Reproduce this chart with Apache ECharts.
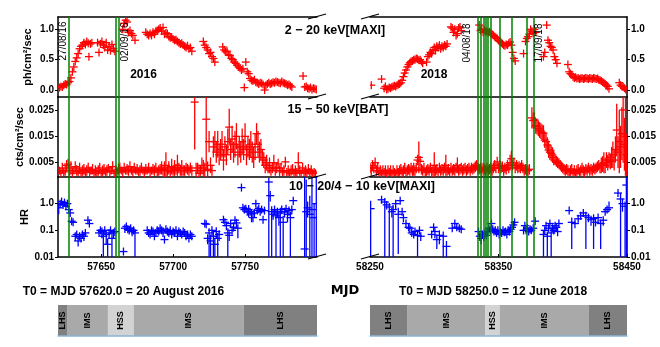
<!DOCTYPE html>
<html>
<head>
<meta charset="utf-8">
<script src="https://cdn.jsdelivr.net/npm/echarts@6/dist/echarts.min.js"></script>
<style>
html, body { margin: 0; padding: 0; background: #fff; }
#main { width: 660px; height: 347px; }
</style>
</head>
<body>
<div id="main"></div>
<script>
// reference epochs (MJD) and axis ranges
const T0_16 = 57620, T0_18 = 58250;
const xRange16 = [57620, 57800], xRange18 = [58250, 58450];
const xTicks16 = [57650, 57700, 57750], xTicks18 = [58250, 58350, 58450];
const fluxTicks = [0, 0.5, 1.0];
const batTicks = [0.005, 0.015, 0.025];

// green marker lines, days after T0
const green16 = [7.6, 39.9, 42.4];
const green18 = [83.8, 86.1, 88.7, 90.0, 91.6, 93.6, 100.9, 110.3, 122.2, 127.6];

// spectral states [name, start day, end day]
const states16 = [['LHS', 0, 6.7], ['IMS', 6.7, 34.7], ['HSS', 34.7, 52.6], ['IMS', 52.6, 129], ['LHS', 129, 180]];
const states18 = [['LHS', 0, 29.3], ['IMS', 29.3, 89.8], ['HSS', 89.8, 100.9], ['IMS', 100.9, 170.4], ['LHS', 170.4, 200]];

// MAXI 2-20 keV  [day, flux]
const maxi16 = [
  [1,0.04],[2,0.06],[3,0.05],[4,0.08],[5,0.1],[6,0.09],[7,0.12],[8,0.14],[9,0.2],[10,0.3],[11,0.38],[12,0.47],
  [13,0.53],[14,0.6],[15,0.68],[16,0.72],[17,0.74],[18,0.78],[19,0.75],[20,0.8],[21,0.77],[21.5,0.55],[22.5,0.76],[23.5,0.78],
  [27.5,0.78],[28.5,0.62],[29.5,0.76],[30.5,0.8],[31.5,0.74],[32.5,0.7],[33.5,0.78],[34.5,0.66],[35.5,0.72],[36.5,0.65],
  [37.5,0.75],[38.5,0.68],[39.5,0.64],
  [45,1.0],[46,1.1],[47,1.15],[48,1.12],[49,0.95],[50,0.98],[51,0.93],[52,0.9],[53.5,0.82],
  [61,0.95],[62,0.92],[63,0.9],[64,0.93],[65,0.9],[66,0.95],[67,0.92],[68,0.97],[69,0.98],[70,1.0],[71,1.02],[72,0.97],
  [73,1.03],[74,0.92],[75,0.94],[76,0.93],[77,0.88],[78,0.86],[79,0.87],[80,0.84],[81,0.82],[82,0.83],[83,0.8],[84,0.78],
  [85,0.76],[86,0.77],[87,0.74],[88,0.72],[89,0.7],[90,0.73],[91,0.68],[92,0.7],[93,0.64],
  [101,0.8],[102,0.74],[103,0.7],[104,0.66],[105,0.6],[106,0.62],[107,0.55],[108,0.52],[109,0.46],
  [114.5,0.71],[115.5,0.66],[116.5,0.63],[117.5,0.64],[118.5,0.58],[119.5,0.57],[120.5,0.52],[121.5,0.5],[122.5,0.46],
  [123.5,0.44],[124.5,0.41],[125.5,0.38],[126.5,0.36],[127.5,0.33],[128.5,0.35],[129.5,0.04],[130.5,0.46],[131.5,0.3],
  [132.5,0.27],[133.5,0.19],[134.5,0.16],[135.5,0.15],[136.5,0.17],[137.5,0.13],[138.5,0.12],[139.5,0.1],[140.5,0.12],
  [141.5,0.11],[142.5,0.09],[143.6,0.0],[144.5,0.08],[145.5,0.1],[146.5,0.12],[147.5,0.1],[148.5,0.11],[149.5,0.13],
  [150.5,0.12],[151.5,0.14],[152.5,0.13],[153.5,0.12],[154.5,0.11],[155.5,0.14],[156.5,0.12],[157.5,0.11],[158.5,0.1],
  [159.5,0.08],[160.5,0.09],[161.5,0.07],[162.5,0.05],
  [170.3,0.23],[171.5,0.05],[172.5,0.06],[173.5,0.03],[174.5,0.02],[175.5,0.04],[176.5,0.01],[177.5,0.03],[178.5,0.02],[179.5,0.01]
];
const maxi18 = [
  [1,0.08],[9,0.18],[11,0.03],[12,0.06],[13,0.01],[14,0.02],[15,0.04],[16,0.03],[17,0.05],[18,0.06],[19,0.07],[20,0.06],
  [21,0.08],[22,0.09],[23,0.1],[24,0.12],[25,0.16],[26,0.22],[27,0.28],[28,0.33],[29,0.38],[30,0.42],[31,0.45],[32,0.47],
  [33,0.48],[34,0.5],[35,0.5],[36,0.52],[37,0.51],[38,0.49],[39,0.5],[40,0.47],[41,0.44],
  [44,0.46],[45,0.55],[46,0.58],[47,0.62],[48,0.6],[49,0.66],[50,0.7],[51,0.65],[52,0.72],[53,0.7],[54,0.74],[55,0.68],
  [56,0.72],[57,0.7],[58,0.74],[59,0.72],[60,0.76],
  [63,1.04],[64,1.02],[65,0.95],[66,1.0],[67,0.9],[68,0.93],[69,1.02],[70,1.04],[71,0.98],
  [85,1.07],[86,0.98],[87,1.0],[88,0.95],[89,0.99],[90,0.96],[91,0.97],[92,0.94],[93,0.96],[94,0.93],[95,0.92],[96,0.9],
  [97,0.88],[98,0.86],[99,0.85],[100,0.82],[101,0.8],[102,0.78],[103,0.76],[104,0.74],[105,0.73],[106,0.75],[107,0.74],
  [108,0.77],[109,0.79],[110,0.74],[111,0.62],[112,0.52],[113,0.48],
  [119.5,0.6],[121,0.8],[122,0.85],[123,0.88],[124,0.92],[125,1.0],[126,0.97],[127,0.93],[128,1.0],[129,0.95],
  [135,0.55],[136,0.62],[137.5,1.07],[138.5,0.82],[139.5,0.78],[140.5,0.72],[141.5,0.7],[142.5,0.66],[143.5,0.55],
  [144.5,0.5],[145.5,0.44],
  [154,0.42],[155,0.3],[156,0.27],[157,0.25],[158,0.22],[159,0.2],[160,0.21],[161,0.19],[162,0.2],[163,0.18],[164,0.19],
  [165,0.2],[166,0.18],[167,0.19],[168,0.2],[169,0.19],[170,0.18],[171,0.2],[172,0.19],[173,0.18],[174,0.2],[175,0.19],
  [176,0.18],[177,0.19],[178,0.17],[179,0.16],[180,0.15],[181,0.13],[182,0.12],[183,0.1],[184,0.08],[185,0.06],[186,0.02],
  [194,0.12],[195,0.08],[196,0.06],[197,0.05],[198,0.03],[199,0.01]
];

// BAT 15-50 keV  [day, rate, error]
const bat16 = [
  [1,0.002,0.0015],[2,0.001,0.002],[3,0.003,0.002],[4,0.0015,0.0015],[5,0.002,0.002],[6,0.004,0.002],[7,0.0045,0.002],
  [8,0.002,0.002],[9,0.003,0.0025],[10,0.001,0.002],[11,0.002,0.0015],[12,0.0035,0.002],[13,0.002,0.002],[14,0.0015,0.0015],
  [15,0.003,0.002],[16,0.001,0.0015],[17,0.002,0.002],[18,0.0025,0.002],[19,0.0015,0.0015],[20,0.002,0.002],[21,0.003,0.002],
  [22,0.0015,0.002],[23,0.002,0.0015],[24,0.0025,0.002],[25,0.001,0.0015],[26,0.002,0.002],[27,0.0015,0.0015],[28,0.002,0.002],
  [29,0.003,0.002],[30,0.001,0.0015],[31,0.002,0.002],[32,0.0025,0.002],[33,0.0015,0.0015],[34,0.002,0.002],[35,0.003,0.0015],
  [36,0.0015,0.002],[37,0.002,0.0015],[38,0.0035,0.002],[39,0.001,0.0015],[40,0.002,0.002],[41,0.0015,0.0015],[42,0.0025,0.002],
  [43,0.003,0.002],[44,0.002,0.0015],[45,0.0015,0.002],[46,0.003,0.002],[47,0.002,0.0015],[48,0.0025,0.002],[49,0.002,0.002],
  [50,0.0035,0.002],[51,0.002,0.0015],[52,0.0015,0.002],[53,0.003,0.002],[54,0.002,0.0015],[55,0.0025,0.002],[56,0.0015,0.0015],
  [57,0.002,0.002],[58,0.003,0.002],[59,0.002,0.0015],[60,0.0015,0.002],[61,0.0025,0.002],[62,0.002,0.0015],[63,0.003,0.002],
  [64,0.0015,0.002],[65,0.002,0.0015],[66,0.0025,0.002],[67,0.002,0.002],[68,0.003,0.002],[69,0.0015,0.0015],[70,0.002,0.002],
  [71,0.0025,0.002],[72,0.003,0.0025],[73,0.002,0.002],[74,0.0025,0.003],[75,0.004,0.005],[76,0.002,0.002],[77,0.003,0.0025],
  [78,0.0015,0.002],[79,0.0035,0.003],[80,0.002,0.002],[81,0.003,0.003],[82,0.0025,0.002],[83,0.004,0.004],[84,0.003,0.002],
  [85,0.002,0.002],[86,0.003,0.003],[87,0.002,0.002],[88,0.002,0.002],[89,0.003,0.002],[90,0.0025,0.002],[91,0.002,0.002],
  [92,0.003,0.002],[93,0.002,0.002],[95,0.028,0.018],[96,0.002,0.003],[97,0.003,0.002],[98,0.001,0.003],[99,0.002,0.002],
  [100,0.004,0.003],[101,0.003,0.003],[102,0.002,0.003],[103,0.0215,0.019],[104,0.0025,0.003],[105,0.013,0.004],
  [106,0.004,0.003],[107,0.002,0.002],[108,0.011,0.004],[109,0.013,0.004],[110,0.009,0.004],[111,0.012,0.005],
  [112,0.008,0.004],[113,0.01,0.004],[114,0.012,0.005],[115,0.006,0.004],[116,0.011,0.004],[117,0.008,0.004],
  [118,0.013,0.005],[119,0.0185,0.007],[120,0.01,0.004],[121,0.014,0.005],[122,0.009,0.004],[123,0.012,0.005],
  [124,0.015,0.005],[125,0.008,0.004],[126,0.011,0.004],[127,0.009,0.004],[128,0.013,0.005],[129,0.01,0.004],
  [130,0.015,0.005],[131,0.008,0.004],[132,0.011,0.004],[133,0.01,0.004],[134,0.012,0.005],[135,0.009,0.004],
  [136,0.007,0.004],[137,0.011,0.005],[138,0.016,0.004],[139,0.012,0.005],[140,0.009,0.004],[141,0.01,0.004],
  [142,0.007,0.003],[143,0.006,0.003],[144,0.004,0.003],[145,0.005,0.003],[146,0.003,0.002],[147,0.004,0.003],
  [148,0.002,0.002],[149,0.003,0.002],[150,0.005,0.003],[151,0.002,0.002],[152,0.003,0.002],[153,0.0045,0.002],
  [154,0.002,0.002],[155,0.003,0.002],[156,0.0015,0.0015],[157,0.002,0.002],[158,0.0053,0.002],[159,0.0015,0.0015],
  [160,0.002,0.002],[161,0.001,0.0015],[162,0.002,0.002],[163,0.0025,0.002],[164,0.001,0.0015],[165,0.002,0.002],
  [166,0.0015,0.0015],[167,0.005,0.004],[168,0.002,0.002],[169,0.001,0.0015],[170,0.003,0.002],[171,0.0015,0.0015],
  [172,0.002,0.002],[173,0.001,0.0015],[174,0.0025,0.002],[175,0.0015,0.0015],[176,0.002,0.002],[177,0.001,0.0015],
  [178,0.0015,0.0015],[179,0.001,0.0015]
];
const bat18 = [
  [0,0.003,0.002],[1,0.002,0.002],[2,0.004,0.002],[3,0.003,0.002],[4,0.005,0.002],[5,0.002,0.002],[6,0.003,0.002],
  [7,0.0015,0.0015],[8,0.002,0.002],[9,0.001,0.0015],[10,0.002,0.002],[11,0.0015,0.0015],[12,0.002,0.002],[13,0.001,0.0015],
  [14,0.002,0.002],[15,0.0015,0.0015],[16,0.002,0.002],[17,0.001,0.0015],[18,0.002,0.002],[19,0.0015,0.0015],[20,0.001,0.0015],
  [21,0.002,0.002],[22,0.0015,0.0015],[23,0.002,0.002],[24,0.0025,0.002],[25,0.001,0.0015],[26,0.002,0.002],[27,0.003,0.002],
  [28,0.0015,0.0015],[29,0.002,0.002],[30,0.0025,0.002],[31,0.002,0.002],[32,0.003,0.002],[33,0.002,0.002],[34,0.0025,0.0025],
  [35,0.002,0.002],[36,0.003,0.002],[37,0.006,0.002],[38,0.007,0.006],[39,0.0055,0.002],[40,0.0025,0.002],[41,0.002,0.002],
  [42,0.003,0.002],[43,0.0015,0.0015],[44,0.002,0.002],[45,0.0025,0.002],[46,0.002,0.002],[47,0.003,0.002],[48,0.0015,0.002],
  [49,0.002,0.002],[50,0.004,0.005],[51,0.002,0.002],[52,0.0025,0.002],[53,0.0015,0.0015],[54,0.003,0.002],[55,0.002,0.002],
  [56,0.0025,0.002],[57,0.002,0.002],[58,0.003,0.002],[59,0.004,0.004],[60,0.002,0.002],[61,0.0025,0.002],[62,0.0015,0.0015],
  [63,0.003,0.002],[64,0.002,0.002],[65,0.0025,0.002],[66,0.002,0.002],[67,0.003,0.002],[68,0.004,0.003],[69,0.002,0.002],
  [70,0.0025,0.002],[71,0.003,0.002],[72,0.002,0.002],[73,0.0025,0.002],[74,0.003,0.002],[75,0.002,0.002],[76,0.0025,0.002],
  [77,0.003,0.002],[78,0.002,0.002],[79,0.003,0.002],[80,0.0025,0.002],[81,0.003,0.002],[82,0.0035,0.002],[83,0.004,0.002],
  [84,0.003,0.002],[85,0.0025,0.002],[86,0.003,0.002],[87,0.002,0.002],[88,0.003,0.002],[89,0.0025,0.002],[90,0.002,0.002],
  [91,0.003,0.002],[92,0.002,0.002],[93,0.0025,0.002],[94,0.003,0.002],[95,0.002,0.002],[96,0.003,0.002],[97,0.004,0.002],
  [98,0.003,0.002],[99,0.0053,0.002],[100,0.003,0.002],[101,0.004,0.002],[102,0.003,0.002],[103,0.0035,0.002],
  [104,0.002,0.002],[105,0.003,0.002],[106,0.0025,0.002],[107,0.004,0.002],[108,0.003,0.002],[109,0.005,0.003],
  [110,0.0065,0.003],[111,0.004,0.002],[112,0.005,0.002],[113,0.003,0.002],[114,0.004,0.002],[115,0.003,0.002],
  [116,0.0035,0.002],[117,0.003,0.002],[118,0.004,0.002],[119,0.003,0.002],[120,0.002,0.002],[121,0.0025,0.002],
  [122,0.002,0.002],[123,0.002,0.002],[124,0.0025,0.002],[126,0.022,0.004],[127,0.021,0.003],[128,0.0212,0.003],
  [129,0.019,0.003],[130,0.0187,0.003],[131,0.018,0.003],[132,0.0174,0.003],[133,0.017,0.003],[134,0.0165,0.003],
  [135,0.0162,0.003],[136,0.0136,0.003],[137,0.013,0.003],[138,0.0117,0.003],[139,0.0098,0.003],[140,0.009,0.003],
  [141,0.0085,0.003],[142,0.0079,0.003],[143,0.007,0.003],[144,0.006,0.002],[145,0.0055,0.002],[146,0.005,0.002],
  [147,0.0047,0.002],[148,0.004,0.002],[149,0.0035,0.002],[150,0.003,0.002],[151,0.0025,0.002],[152,0.002,0.002],
  [153,0.0025,0.002],[154,0.002,0.002],[155,0.0015,0.0015],[156,0.002,0.002],[157,0.0025,0.002],[158,0.0015,0.0015],
  [159,0.002,0.002],[160,0.001,0.0015],[161,0.002,0.002],[162,0.0025,0.002],[163,0.0015,0.0015],[164,0.002,0.002],
  [165,0.003,0.002],[166,0.002,0.002],[167,0.0015,0.002],[168,0.0025,0.002],[169,0.002,0.002],[170,0.003,0.002],
  [171,0.002,0.002],[172,0.0025,0.002],[173,0.002,0.002],[174,0.003,0.002],[175,0.0025,0.002],[176,0.003,0.002],
  [177,0.0035,0.002],[178,0.004,0.002],[179,0.003,0.002],[180,0.004,0.003],[181,0.0045,0.003],[182,0.005,0.004],
  [183,0.004,0.003],[184,0.006,0.003],[185,0.005,0.003],[186,0.006,0.003],[187,0.0055,0.003],[188,0.007,0.004],
  [189,0.008,0.005],[190,0.006,0.004],[191,0.01,0.005],[192,0.0174,0.01],[193,0.009,0.006],[194,0.013,0.012],
  [195,0.011,0.008],[196,0.016,0.01],[197,0.025,0.02],[198,0.012,0.01],[198.8,0.015,0.015],[199.7,0.008,0.008]
];

// hardness ratio 10-20 / 4-10 keV  [day, HR, low, high]
const hr16 = [
  [0.5,0.7,0.4,1.0],[1.5,1.0,0.8,1.3],[2.5,1.2,0.9,1.5],[3.5,0.9,0.7,1.2],[4.5,1.1,0.9,1.3],[5.5,0.8,0.6,1.0],
  [6.5,1.0,0.8,1.2],[7.5,0.6,0.45,0.8],[8.5,0.45,0.35,0.6],[9.5,0.22,0.18,0.28],[10.5,0.2,0.16,0.24],
  [12,0.06,0.04,0.08],[13,0.07,0.05,0.09],[14,0.04,0.025,0.06],[15,0.06,0.045,0.08],[16,0.05,0.035,0.07],
  [17,0.07,0.05,0.09],[18,0.06,0.04,0.08],[19,0.08,0.06,0.1],[20.8,0.24,0.18,0.3],[21.8,0.18,0.13,0.23],
  [28.5,0.08,0.06,0.1],[29.5,0.1,0.07,0.13],[30.5,0.09,0.05,0.12],[31.5,0.06,0.01,0.1],[32.5,0.1,0.07,0.13],
  [33.5,0.07,0.03,0.1],[34.5,0.03,0.01,0.05],[35.5,0.08,0.05,0.11],[36.5,0.1,0.08,0.12],[37.5,0.05,0.01,0.08],
  [38.5,0.08,0.05,0.11],[39.5,0.09,0.06,0.12],
  [45.5,0.016,0.012,0.02],[46.5,0.12,0.08,0.16],[47.5,0.14,0.1,0.18],[48.5,0.11,0.08,0.15],[49.5,0.1,0.07,0.13],
  [50.5,0.12,0.09,0.16],[51.5,0.09,0.06,0.12],[52.5,0.1,0.07,0.13],[53.5,0.08,0.01,0.11],
  [62,0.1,0.08,0.12],[63,0.08,0.06,0.1],[64,0.07,0.05,0.09],[65,0.1,0.08,0.12],[66,0.09,0.07,0.11],[67,0.06,0.045,0.075],
  [68,0.08,0.065,0.1],[69,0.1,0.08,0.12],[70,0.09,0.07,0.11],[71,0.12,0.1,0.14],[72,0.1,0.08,0.12],[73,0.08,0.06,0.1],
  [74,0.045,0.035,0.06],[75,0.11,0.09,0.13],[76,0.09,0.07,0.11],[77,0.08,0.06,0.1],[78,0.1,0.08,0.12],[79,0.07,0.05,0.09],
  [80,0.09,0.07,0.11],[81,0.08,0.06,0.1],[82,0.1,0.08,0.12],[83,0.06,0.045,0.08],[84,0.09,0.07,0.11],[85,0.08,0.06,0.1],
  [86,0.07,0.05,0.09],[87,0.09,0.07,0.11],[88,0.08,0.06,0.1],[89,0.06,0.045,0.08],[90,0.07,0.05,0.09],[91,0.05,0.035,0.065],
  [92,0.07,0.05,0.09],[93,0.06,0.045,0.08],
  [102,0.18,0.14,0.22],[103,0.17,0.13,0.21],[104,0.05,0.03,0.07],[105,0.08,0.01,0.12],[106,0.04,0.01,0.07],
  [107,0.1,0.06,0.14],[108,0.06,0.01,0.09],[109,0.03,0.01,0.05],[110,0.09,0.05,0.13],[111,0.05,0.01,0.08],[112,0.07,0.04,0.1],
  [115,0.25,0.2,0.32],[116,0.2,0.15,0.26],[117,0.15,0.1,0.2],[118,0.08,0.01,0.12],[119,0.065,0.04,0.09],[120,0.18,0.12,0.24],
  [121,0.1,0.07,0.14],[122,0.13,0.09,0.18],[123,0.24,0.18,0.3],[124,0.19,0.15,0.24],[125,0.12,0.05,0.17],
  [127.5,4.0,3.0,5.5],
  [128.5,0.7,0.55,0.9],[129.5,0.6,0.45,0.75],[130.5,0.65,0.5,0.85],[131.5,0.5,0.35,0.7],[132.5,0.6,0.3,0.9],
  [133.5,0.5,0.35,0.65],[134.5,0.42,0.2,0.6],[135.5,0.3,0.2,0.4],[136.5,0.45,0.3,0.6],[137.5,1.0,0.7,1.3],
  [138.5,0.56,0.4,0.7],[139.5,0.65,0.5,0.85],[140.5,0.5,0.35,0.65],[141.5,0.6,0.45,0.8],[142.5,0.25,0.18,0.35],
  [143.5,0.55,0.4,0.7],
  [146.5,6.5,0.01,9],[147.5,2.0,1.2,3],
  [148.5,0.5,0.01,0.8],[149.5,0.4,0.25,0.6],[150.5,0.6,0.4,0.8],[151.5,0.35,0.01,0.6],[152.5,0.5,0.3,0.7],
  [153.5,0.3,0.15,0.45],[154.5,0.45,0.01,0.7],[155.5,0.6,0.4,0.8],[156.5,0.2,0.01,0.35],[157.5,0.5,0.3,0.7],
  [158.5,0.65,0.45,0.85],[159.5,0.4,0.2,0.6],[160.5,0.55,0.35,0.75],[161.5,0.3,0.01,0.5],[162.5,0.6,0.4,0.8],
  [163.5,1.3,0.9,1.8],
  [171.4,0.02,0.001,10],[172.5,0.5,0.01,8],[173.5,0.7,0.3,1.2],[175,0.4,0.01,2],[176.5,0.6,0.01,10],[178,0.3,0.01,1],
  [179.5,1.0,0.01,10]
];
const hr18 = [
  [0.5,0.65,0.01,1.3],[9,1.4,1.1,1.7],[11.5,1.15,0.01,1.5],[13,0.9,0.6,1.2],[15,0.75,0.01,1.0],[17,0.5,0.3,0.7],
  [18,0.6,0.01,0.9],[20,1.0,0.6,1.4],[22,0.4,0.013,0.7],[23.5,1.3,1.0,1.6],[25,0.5,0.35,0.7],
  [26,0.3,0.2,0.4],[28,0.18,0.13,0.24],[30,0.13,0.09,0.17],[31,0.12,0.08,0.16],[32.5,0.08,0.06,0.1],[34,0.07,0.05,0.09],
  [35,0.09,0.06,0.12],[37,0.065,0.01,0.09],[38.5,0.1,0.07,0.13],[39.5,0.06,0.04,0.08],
  [48,0.07,0.05,0.09],[49.5,0.13,0.1,0.17],[50.5,0.09,0.05,0.12],[52,0.045,0.02,0.07],[54,0.065,0.03,0.1],
  [57,0.06,0.01,0.09],[59.5,0.025,0.01,0.04],
  [64,0.12,0.09,0.15],[66,0.18,0.14,0.22],[67.5,0.13,0.1,0.17],[69.5,0.12,0.09,0.15],[71,0.11,0.08,0.14],
  [84.5,0.09,0.06,0.12],[85.5,0.06,0.04,0.08],[86.5,0.05,0.03,0.07],[87.5,0.07,0.05,0.09],[88.5,0.06,0.04,0.08],
  [89.5,0.08,0.06,0.1],[90.5,0.065,0.05,0.08],[91.5,0.09,0.07,0.11],[92.5,0.12,0.1,0.15],[93.5,0.1,0.08,0.12],
  [94.5,0.18,0.14,0.22],[95.5,0.11,0.09,0.13],[96.5,0.09,0.07,0.11],[97.5,0.1,0.08,0.12],[98.5,0.08,0.06,0.1],
  [99.5,0.1,0.08,0.12],[100.5,0.07,0.05,0.09],[101.5,0.09,0.07,0.11],[102.5,0.08,0.06,0.1],[103.5,0.1,0.08,0.12],
  [104.5,0.085,0.07,0.1],[105.5,0.09,0.07,0.11],[106.5,0.07,0.05,0.09],[107.5,0.1,0.08,0.12],[108.5,0.09,0.07,0.11],
  [109.5,0.11,0.09,0.13],[110.5,0.13,0.1,0.16],[111.5,0.16,0.12,0.2],[112.5,0.2,0.15,0.25],
  [119.5,0.1,0.07,0.13],[120.5,0.15,0.12,0.19],[121.5,0.1,0.08,0.12],[122.5,0.12,0.09,0.15],[123.5,0.09,0.07,0.11],
  [124.5,0.11,0.09,0.14],[125.5,0.1,0.08,0.12],[127,0.12,0.09,0.15],[128.5,0.22,0.17,0.27],
  [135,0.07,0.01,0.1],[136,0.1,0.07,0.13],[137,0.15,0.12,0.18],[138,0.06,0.01,0.09],[139,0.12,0.09,0.15],
  [140,0.18,0.14,0.22],[141,0.08,0.01,0.11],[142,0.12,0.09,0.15],[143,0.1,0.07,0.13],[144,0.15,0.12,0.19],
  [145,0.13,0.1,0.16],[146,0.09,0.06,0.12],[147,0.18,0.14,0.22],
  [155,0.55,0.45,0.65],[157,0.2,0.02,0.3],[159.5,0.18,0.12,0.24],[162,0.27,0.2,0.35],[164,0.35,0.25,0.45],
  [166,0.45,0.35,0.6],[168,0.35,0.02,0.5],[170,0.3,0.2,0.4],[172,0.25,0.15,0.35],[174,0.28,0.02,0.4],
  [175.5,0.2,0.14,0.26],[177.5,0.3,0.2,0.4],[179.5,0.18,0.02,0.25],[181.5,0.24,0.15,0.32],[183,0.5,0.35,0.65],
  [184.5,0.6,0.45,0.8],[186,0.7,0.5,1.2],
  [193,2.5,1.8,3.5],[195,1.5,0.01,2.5],[196.5,1.0,0.5,1.5],[198.5,0.8,0.01,1.2],[199.5,5,0.01,10]
];

// layout
const LEFTS = [58, 370], WIDTHS = [259, 257];
const TOPS = [17, 97, 177], PANEL_H = 80;
const BAR_TOP = 305, BAR_H = 31;
const FONT = '"Liberation Sans", Arial, sans-serif';
const RED = '#ff0000', BLUE = '#0000ff', GREEN = '#008000';
const stateColor = { LHS: '#808080', IMS: '#a9a9a9', HSS: '#d3d3d3' };

// data for the library
const asPts = (arr, t0) => arr.map(r => [t0 + r[0], r[1], r[1], r[1]]);
const asErr = (arr, t0) => arr.map(r => [t0 + r[0], r[1], r[1] - r[2], r[1] + r[2]]);
const asHR = (arr, t0) => arr.map(r => [t0 + r[0], r[1], r[2], r[3]]);

// '+' marker with vertical error bar
function crossItem(params, api) {
  const cs = params.coordSys;
  const clampY = y => Math.min(Math.max(y, cs.y), cs.y + cs.height);
  const x = api.value(0);
  const p = api.coord([x, api.value(1)]);
  const lo = clampY(api.coord([x, api.value(2)])[1]);
  const hi = clampY(api.coord([x, api.value(3)])[1]);
  const st = { stroke: api.visual('color'), lineWidth: 1.3 };
  return {
    type: 'group',
    children: [
      { type: 'line', shape: { x1: p[0] - 4, y1: p[1], x2: p[0] + 4, y2: p[1] }, style: st },
      { type: 'line', shape: { x1: p[0], y1: Math.min(hi, p[1] - 4), x2: p[0], y2: Math.max(lo, p[1] + 4) }, style: st }
    ]
  };
}

function stateItem(states) {
  return function (params, api) {
    const a = api.coord([api.value(0), 1]);
    const b = api.coord([api.value(1), 0]);
    const name = states[params.dataIndex][0];
    return {
      type: 'group',
      children: [
        { type: 'rect', shape: { x: a[0], y: a[1], width: b[0] - a[0], height: b[1] - a[1] },
          style: { fill: stateColor[name] } },
        { type: 'text', x: (a[0] + b[0]) / 2, y: (a[1] + b[1]) / 2, rotation: Math.PI / 2,
          style: { text: name, fill: '#000', font: 'bold 9px ' + FONT, align: 'center', verticalAlign: 'middle',
                   textAlign: 'center', textVerticalAlign: 'middle' } }
      ]
    };
  };
}

const grids = [], xAxes = [], yAxes = [], series = [];

const yCfg = [
  { type: 'value', min: -0.115, max: 1.203, ticks: fluxTicks, name: 'ph/cm²/sec', fmt: v => v.toFixed(1) },
  { type: 'value', min: -0.00043, max: 0.02993, ticks: batTicks, name: 'cts/cm²/sec', fmt: v => v.toFixed(3) },
  { type: 'log', min: 0.01, max: 10, ticks: null, name: 'HR',
    fmt: v => (v >= 10 ? '' : v === 1 ? '1.0' : String(v)) }
];
const rowData = [
  [asPts(maxi16, T0_16), asPts(maxi18, T0_18), RED],
  [asErr(bat16, T0_16), asErr(bat18, T0_18), RED],
  [asHR(hr16, T0_16), asHR(hr18, T0_18), BLUE]
];

for (let r = 0; r < 3; r++) {
  for (let c = 0; c < 2; c++) {
    const i = r * 2 + c;
    const range = c ? xRange18 : xRange16;
    const ticks = c ? xTicks18 : xTicks16;
    grids.push({ left: LEFTS[c], top: TOPS[r], width: WIDTHS[c], height: PANEL_H });
    xAxes.push({
      type: 'value', gridIndex: i, min: range[0], max: range[1], position: 'bottom',
      axisLine: { show: true, onZero: false, lineStyle: { color: '#000', width: 1.5 } },
      axisTick: { show: r === 2, inside: true, length: 3, customValues: ticks, lineStyle: { color: '#000', width: 1 } },
      axisLabel: { show: r === 2, customValues: ticks, margin: 5, color: '#000', fontSize: 10,
                   fontWeight: 'bold', fontFamily: FONT, formatter: v => String(v) },
      splitLine: { show: false }
    });
    const yc = yCfg[r];
    const y = {
      type: yc.type, gridIndex: i, min: yc.min, max: yc.max, position: c ? 'right' : 'left',
      axisLine: { show: true, onZero: false, lineStyle: { color: '#000', width: 1.5 } },
      axisTick: { show: true, length: 3, lineStyle: { color: '#000', width: 1 } },
      axisLabel: { margin: 4, color: '#000', fontSize: 10, fontWeight: 'bold', fontFamily: FONT, formatter: yc.fmt },
      splitLine: { show: false }
    };
    if (yc.type === 'log') {
      y.logBase = 10;
      y.axisLabel.showMaxLabel = false;
    } else {
      y.axisTick.customValues = yc.ticks;
      y.axisLabel.customValues = yc.ticks;
    }
    if (c === 0) {
      y.name = yc.name;
      y.nameLocation = 'middle';
      y.nameGap = 25;
      y.nameRotate = 90;
      y.nameTextStyle = { color: '#000', fontSize: 11, fontWeight: 'bold', fontFamily: FONT };
    }
    yAxes.push(y);
    const greens = c ? green18 : green16;
    const t0 = c ? T0_18 : T0_16;
    series.push({
      type: 'custom', xAxisIndex: i, yAxisIndex: i, data: rowData[r][c], renderItem: crossItem,
      itemStyle: { color: rowData[r][2] }, clip: true, encode: { x: 0, y: 1 },
      markLine: {
        silent: true, symbol: ['none', 'none'], label: { show: false },
        lineStyle: { color: GREEN, width: 1.5, type: 'solid' },
        data: greens.map(g => ({ xAxis: t0 + g }))
      }
    });
  }
}
// top spines of the upper panels
for (let c = 0; c < 2; c++) {
  xAxes.push({
    type: 'value', gridIndex: c, min: (c ? xRange18 : xRange16)[0], max: (c ? xRange18 : xRange16)[1], position: 'top',
    axisLine: { show: true, onZero: false, lineStyle: { color: '#000', width: 1.5 } },
    axisTick: { show: false }, axisLabel: { show: false }, splitLine: { show: false }
  });
}
// spectral state bars
for (let c = 0; c < 2; c++) {
  const gi = 6 + c;
  const range = c ? xRange18 : xRange16;
  const states = c ? states18 : states16;
  const t0 = c ? T0_18 : T0_16;
  grids.push({ left: LEFTS[c], top: BAR_TOP, width: WIDTHS[c], height: BAR_H });
  xAxes.push({
    type: 'value', gridIndex: gi, min: range[0], max: range[1],
    axisLine: { show: true, onZero: false, lineStyle: { color: '#86b6dc', width: 1.5 } },
    axisTick: { show: false }, axisLabel: { show: false }, splitLine: { show: false }, z: 5
  });
  yAxes.push({ type: 'value', gridIndex: gi, min: 0, max: 1, show: false });
  series.push({
    type: 'custom', xAxisIndex: 8 + c, yAxisIndex: gi, renderItem: stateItem(states),
    data: states.map(s => [t0 + s[1], t0 + s[2]]), encode: { x: [0, 1] }
  });
}

// broken-axis diagonals at the inner edges
const breaks = [];
const edgeX = [LEFTS[0] + WIDTHS[0], LEFTS[1]];
edgeX.forEach(x => {
  [TOPS[0], TOPS[1], TOPS[2], TOPS[2] + PANEL_H].forEach(y => {
    breaks.push({ type: 'line', shape: { x1: x - 9, y1: y + 2, x2: x + 9, y2: y - 3 },
                  style: { stroke: '#000', lineWidth: 1.2 }, z: 10 });
  });
});

function label(text, x, y, font, opts) {
  return Object.assign({
    type: 'text', x: x, y: y, z: 20,
    style: { text: text, font: font, fill: '#000', align: 'center', verticalAlign: 'middle',
             textAlign: 'center', textVerticalAlign: 'middle' }
  }, opts || {});
}
const boldF = s => 'bold ' + s + 'px ' + FONT;
const texts = [
  label('2 − 20 keV[MAXI]', 335, 31, boldF(12.5)),
  label('15 − 50 keV[BAT]', 338, 110, boldF(12.5)),
  label('10 − 20/4 − 10 keV[MAXI]', 362, 187, boldF(12.5)),
  label('2016', 143.5, 75, boldF(12)),
  label('2018', 434, 75, boldF(12)),
  label('27/08/16', 63.5, 41, '10px ' + FONT, { rotation: Math.PI / 2 }),
  label('02/09/16', 125, 42, '10px ' + FONT, { rotation: Math.PI / 2 }),
  label('04/08/18', 467, 43, '10px ' + FONT, { rotation: Math.PI / 2 }),
  label('17/09/18', 539.5, 43, '10px ' + FONT, { rotation: Math.PI / 2 }),
  label('T0 = MJD 57620.0 = 20 August 2016', 123.5, 291.5, boldF(12)),
  label('MJD', 345, 291, 'bold 13px "DejaVu Sans", sans-serif'),
  label('T0 = MJD 58250.0 = 12 June 2018', 493, 291.5, boldF(12))
];

const chart = echarts.init(document.getElementById('main'), null, { renderer: 'canvas' });
chart.setOption({
  backgroundColor: '#ffffff',
  animation: false,
  grid: grids,
  xAxis: xAxes,
  yAxis: yAxes,
  series: series,
  graphic: { elements: breaks.concat(texts) }
});
</script>
</body>
</html>
